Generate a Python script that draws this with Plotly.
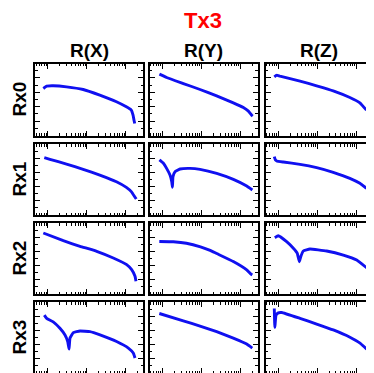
import plotly.graph_objects as go

# ---- data (x: log axis, y: relative level) ----
title_text = "Tx3"
col_titles = ["R(X)", "R(Y)", "R(Z)"]
row_titles = ["Rx0", "Rx1", "Rx2", "Rx3"]

x_r0_c0 = [0.764, 0.931, 1.37, 3.01, 8.04, 21.5, 57.4, 103, 138, 153, 162, 169]
y_r0_c0 = [65.3, 68.5, 69.0, 67.6, 63.9, 56.0, 46.8, 39.8, 35.2, 28.2, 21.3, 16.7]
x_r0_c1 = [0.83, 1.27, 3.42, 9.14, 24.4, 65.4, 118, 159, 193, 205]
y_r0_c1 = [85.2, 80.6, 72.2, 63.9, 55.1, 45.4, 38.9, 33.8, 28.2, 26.9]
x_r0_c2 = [0.779, 0.896, 1.09, 3.58, 9.62, 25.7, 69.0, 125, 185]
y_r0_c2 = [81.5, 83.8, 82.4, 75.5, 69.0, 62.0, 52.8, 45.4, 35.2]

x_r1_c0 = [0.809, 1.13, 3.01, 8.04, 21.5, 57.4, 103, 138, 169, 185]
y_r1_c0 = [80.8, 78.4, 71.8, 64.3, 56.3, 46.9, 39.0, 32.9, 25.8, 22.5]
x_r1_c1 = [0.83, 1.05, 1.27, 1.55, 1.72, 1.79, 1.85, 2.09, 2.81, 5.05, 9.14, 24.4, 65.4, 144, 201]
y_r1_c1 = [77.5, 72.8, 65.7, 56.3, 46.9, 39.0, 54.0, 61.0, 64.8, 65.7, 64.3, 58.7, 50.2, 40.8, 35.2]
x_r1_c2 = [0.779, 0.83, 0.896, 1.33, 3.58, 9.62, 25.7, 69.0, 125, 185]
y_r1_c2 = [82.2, 77.5, 76.1, 74.6, 71.4, 66.7, 60.1, 51.6, 44.6, 37.6]

x_r2_c0 = [0.764, 2.49, 6.68, 17.9, 47.6, 105, 141, 172, 182]
y_r2_c0 = [85.9, 75.1, 67.2, 60.1, 50.7, 41.3, 34.2, 24.9, 17.9]
x_r2_c1 = [0.825, 1.89, 4.09, 9.38, 16.6, 24.4, 65.2, 144, 182, 200]
y_r2_c1 = [74.0, 73.5, 71.5, 66.5, 61.5, 57.0, 45.7, 33.9, 28.3, 26.9]
x_r2_c2 = [0.804, 0.986, 1.62, 2.41, 3.05, 3.44, 3.74, 4.36, 6.47, 17.4, 46.8, 103.5, 194]
y_r2_c2 = [79.3, 82.1, 73.7, 64.4, 57.3, 45.5, 52.5, 60.6, 63.4, 60.6, 54.9, 47.9, 36.2]

x_r3_c0 = [0.809, 0.931, 1.37, 2.04, 2.75, 3.23, 3.49, 3.69, 4.50, 6.68, 12.0, 21.8, 57.9, 116, 155, 172]
y_r3_c0 = [81.5, 76.9, 72.1, 63.0, 53.6, 44.3, 33.7, 49.0, 56.8, 59.2, 58.2, 53.6, 44.3, 35.1, 28.1, 21.2]
x_r3_c1 = [0.825, 3.40, 9.14, 24.4, 65.2, 144, 200]
y_r3_c1 = [83.8, 73.5, 66.1, 58.2, 49.0, 40.7, 35.1]
x_r3_c2 = [0.779, 0.804, 0.863, 0.986, 1.21, 3.58, 9.62, 25.8, 69.2, 126, 188]
y_r3_c2 = [90.8, 64.3, 81.5, 84.7, 85.2, 76.9, 68.9, 60.6, 50.4, 42.1, 33.7]

x_major_ticks = [1, 10, 100]
x_minor_ticks = [0.5, 0.6, 0.7, 0.8, 0.9, 2, 3, 4, 5, 6, 7, 8, 9,
                 20, 30, 40, 50, 60, 70, 80, 90, 200]

series = [
    [(x_r0_c0, y_r0_c0), (x_r0_c1, y_r0_c1), (x_r0_c2, y_r0_c2)],
    [(x_r1_c0, y_r1_c0), (x_r1_c1, y_r1_c1), (x_r1_c2, y_r1_c2)],
    [(x_r2_c0, y_r2_c0), (x_r2_c1, y_r2_c1), (x_r2_c2, y_r2_c2)],
    [(x_r3_c0, y_r3_c0), (x_r3_c1, y_r3_c1), (x_r3_c2, y_r3_c2)],
]

# ---- layout geometry (page pixels; page body has an 8px margin) ----
OFF = 8
W, H = 374 - OFF, 373 - OFF
col_px = [(35, 143), (149.7, 257.7), (265.7, 373.2)]
row_px = [(63.5, 135.5), (144, 215), (223, 294), (302, 373.5)]

def px_x(v):
    return (v - OFF) / W

def px_y(v):
    return 1 - (v - OFF) / H

FONT = "Liberation Sans, Arial, sans-serif"
fig = go.Figure()
layout = dict(
    width=W, height=H, margin=dict(l=0, r=0, t=0, b=0),
    paper_bgcolor="white", plot_bgcolor="white", showlegend=False,
    font=dict(family=FONT, color="black"),
)
annotations = []
n = 0
for r in range(4):
    for c in range(3):
        n += 1
        xs, ys = series[r][c]
        xa = "x" if n == 1 else f"x{n}"
        ya = "y" if n == 1 else f"y{n}"
        fig.add_trace(go.Scatter(x=xs, y=ys, mode="lines", xaxis=xa, yaxis=ya,
                                 line=dict(color="#1010f0", width=2.9, shape="spline", smoothing=0.3)))
        x0, x1 = col_px[c]
        y0, y1 = row_px[r]
        xd = [max(0, px_x(x0)), min(1, px_x(x1))]
        yd = [max(0, px_y(y1)), min(1, px_y(y0))]
        layout["xaxis" if n == 1 else f"xaxis{n}"] = dict(
            domain=xd, anchor=ya, type="log", range=[-0.33, 2.44],
            showgrid=False, zeroline=False, showticklabels=False,
            showline=True, linecolor="black", linewidth=2, mirror="allticks",
            ticks="inside", ticklen=5, tickwidth=1.2, tickcolor="black",
            tickmode="array", tickvals=x_major_ticks,
            minor=dict(ticks="inside", ticklen=2.5, tickwidth=1, tickcolor="black",
                       tickmode="array", tickvals=x_minor_ticks, showgrid=False),
        )
        layout["yaxis" if n == 1 else f"yaxis{n}"] = dict(
            domain=yd, anchor=xa, range=[0, 100],
            showgrid=False, zeroline=False, showticklabels=False,
            showline=True, linecolor="black", linewidth=2, mirror="allticks",
            ticks="inside", ticklen=5, tickwidth=1.2, tickcolor="black", dtick=20, tick0=0,
            minor=dict(ticks="inside", ticklen=2.5, tickwidth=1, tickcolor="black", dtick=10, showgrid=False),
        )

annotations.append(dict(text=f"<b>{title_text}</b>", x=px_x(203), y=px_y(21), xref="paper", yref="paper",
                        showarrow=False, font=dict(size=22, color="#ff0000", family=FONT),
                        xanchor="center", yanchor="middle"))
for c, t in enumerate(col_titles):
    cx = (col_px[c][0] + col_px[c][1]) / 2
    annotations.append(dict(text=f"<b>{t}</b>", x=px_x(cx), y=px_y(51), xref="paper", yref="paper",
                            showarrow=False, font=dict(size=19, color="black", family=FONT),
                            xanchor="center", yanchor="middle"))
for r, t in enumerate(row_titles):
    cy = (row_px[r][0] + min(row_px[r][1], 373)) / 2
    annotations.append(dict(text=f"<b>{t}</b>", x=px_x(19), y=px_y(cy), xref="paper", yref="paper",
                            showarrow=False, textangle=-90, font=dict(size=19, color="black", family=FONT),
                            xanchor="center", yanchor="middle"))
layout["annotations"] = annotations
fig.update_layout(**layout)
fig.write_html("out.html")
